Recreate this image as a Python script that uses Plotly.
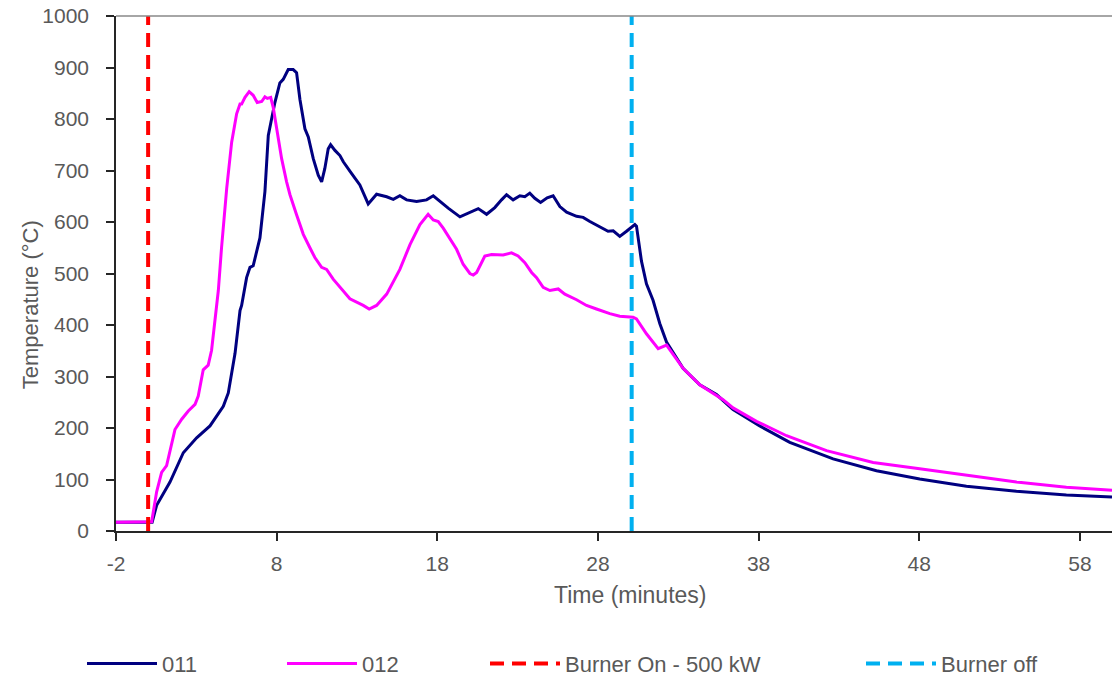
import plotly.graph_objects as go

# ---- data ----
t_011 = [-2, 0.25, 0.53, 1.36, 2.19, 3.02, 3.85, 4.68, 4.99, 5.41, 5.72, 5.82, 6.13, 6.34, 6.54, 6.96,
         7.27, 7.48, 7.89, 8.2, 8.41, 8.72, 9.03, 9.24, 9.45, 9.76, 9.97, 10.28, 10.59, 10.8, 11.0,
         11.21, 11.36, 11.63, 11.94, 12.15, 12.67, 13.18, 13.7, 14.22, 14.85, 15.26, 15.67, 16.09,
         16.71, 17.33, 17.75, 18.16, 18.68, 19.41, 20.03, 20.55, 21.07, 21.58, 22.0, 22.31, 22.72,
         23.14, 23.45, 23.76, 24.07, 24.43, 24.84, 25.21, 25.63, 26.05, 26.67, 27.08, 27.5, 28.12,
         28.63, 28.95, 29.36, 29.78, 30.3, 30.4, 30.71, 31.02, 31.43, 31.85, 32.27, 33.3, 34.34,
         35.38, 36.41, 38.07, 39.94, 42.64, 45.34, 48.03, 50.94, 54.05, 57.16, 60]
T_011 = [17, 17, 50, 95, 152, 181, 204, 242, 268, 345, 428, 438, 492, 512, 515, 569,
         659, 768, 832, 870, 877, 896, 896, 890, 838, 781, 765, 723, 691, 678, 704,
         742, 750, 739, 729, 717, 694, 672, 635, 654, 649, 644, 651, 643,
         640, 643, 651, 640, 627, 610, 618, 626, 615, 628, 643, 653, 643,
         651, 649, 656, 646, 638, 647, 651, 630, 619, 611, 609, 601, 590,
         582, 583, 572, 582, 595, 592, 524, 480, 448, 403, 367, 316, 284,
         265, 236, 204, 172, 140, 117, 101, 87, 77, 70, 66]

t_012 = [-2, 0.22, 0.53, 0.84, 1.15, 1.47, 1.67, 2.09, 2.5, 2.92, 3.12, 3.43, 3.74, 3.95, 4.16, 4.37,
         4.57, 4.89, 5.2, 5.51, 5.72, 5.82, 6.03, 6.29, 6.54, 6.79, 7.07, 7.27, 7.42, 7.63, 7.79,
         8.0, 8.31, 8.62, 8.83, 9.24, 9.66, 10.07, 10.38, 10.8, 11.11, 11.52, 11.94, 12.56, 13.39,
         13.76, 14.22, 14.85, 15.67, 16.3, 16.92, 17.43, 17.75, 18.06, 18.37, 18.78, 19.2, 19.61,
         20.03, 20.24, 20.45, 20.96, 21.38, 22.1, 22.62, 23.03, 23.45, 23.87, 24.18, 24.59, 25.01,
         25.53, 25.94, 26.67, 27.29, 27.91, 28.74, 29.36, 30.19, 30.4, 31.02, 31.75, 32.27, 33.3,
         34.34, 35.79, 36.41, 37.87, 39.74, 42.23, 45.13, 48.03, 50.94, 54.05, 57.16, 60]
T_012 = [17, 18, 76, 114, 127, 172, 197, 217, 233, 246, 262, 313, 322, 351, 409, 467,
         550, 665, 755, 810, 829, 829, 842, 853, 846, 832, 834, 843, 840, 842, 822,
         781, 723, 678, 653, 614, 576, 550, 531, 512, 508, 489, 473, 451, 438,
         431, 438, 460, 508, 556, 595, 615, 604, 601, 588, 569, 547, 518,
         500, 497, 502, 534, 537, 536, 540, 534, 521, 502, 492, 473, 467,
         470, 460, 449, 438, 431, 422, 417, 415, 412, 383, 354, 361, 316,
         284, 255, 239, 213, 185, 156, 133, 121, 108, 95, 85, 79]

burner_on_t = [0, 0]
burner_off_t = [30.1, 30.1]
marker_T = [0, 1000]

x_ticks = [-2, 8, 18, 28, 38, 48, 58]
y_ticks = [0, 100, 200, 300, 400, 500, 600, 700, 800, 900, 1000]

FONT = "Liberation Sans, Arial, sans-serif"
GRAY = "#595959"

fig = go.Figure()
fig.add_trace(go.Scatter(x=t_011, y=T_011, mode="lines", name="011",
                         line=dict(color="#000080", width=3), legend="legend"))
fig.add_trace(go.Scatter(x=t_012, y=T_012, mode="lines", name="012",
                         line=dict(color="#FF00FF", width=3), legend="legend2"))
fig.add_trace(go.Scatter(x=burner_on_t, y=marker_T, mode="lines", name="Burner On - 500 kW",
                         line=dict(color="#FF0000", width=4, dash="14px,8px"), legend="legend3"))
fig.add_trace(go.Scatter(x=burner_off_t, y=marker_T, mode="lines", name="Burner off",
                         line=dict(color="#00B0F0", width=4, dash="14px,8px"), legend="legend4"))

W, H = 1113, 686
L, R, T, B = 116, 1, 16, 150
pw = W - L - R
ph = H - T - B


def px_x(px):
    return (px - L) / pw


def px_y(py):
    return (H - B - py) / ph


legend_common = dict(orientation="h", yanchor="middle", xanchor="left", y=px_y(670),
                     font=dict(family=FONT, size=22, color=GRAY), itemwidth=70,
                     bgcolor="rgba(0,0,0,0)", borderwidth=0, tracegroupgap=0)

fig.update_layout(
    width=W, height=H,
    margin=dict(l=L, r=R, t=T, b=B, pad=0),
    plot_bgcolor="white", paper_bgcolor="white",
    font=dict(family=FONT, size=20, color=GRAY),
    showlegend=True,
    legend=dict(x=px_x(82), **legend_common),
    legend2=dict(x=px_x(282), **legend_common),
    legend3=dict(x=px_x(485), **legend_common),
    legend4=dict(x=px_x(861), **legend_common),
    xaxis=dict(range=[-2, 60], tickvals=x_ticks, ticktext=[str(v) for v in x_ticks],
               showgrid=False, zeroline=False, showline=True, linecolor="#262626", linewidth=1.5,
               ticks="outside", ticklen=8, tickcolor="#262626", tickwidth=1.5,
               tickfont=dict(family=FONT, size=21, color=GRAY), ticklabelstandoff=5),
    yaxis=dict(range=[0, 1000], tickvals=y_ticks, ticktext=[str(v) for v in y_ticks],
               showgrid=False, zeroline=False, showline=True, linecolor="#262626", linewidth=1.5,
               ticks="outside", ticklen=8, tickcolor="#262626", tickwidth=1.5,
               tickfont=dict(family=FONT, size=21, color=GRAY), ticklabelstandoff=13),
    shapes=[dict(type="line", xref="paper", yref="paper", x0=0, x1=1, y0=1, y1=1,
                 line=dict(color="#898989", width=1.5))],
    annotations=[
        dict(text="Time (minutes)", xref="paper", yref="paper", x=px_x(630), y=px_y(601),
             xanchor="center", yanchor="middle", showarrow=False,
             font=dict(family=FONT, size=23, color=GRAY)),
        dict(text="Temperature (°C)", xref="paper", yref="paper", x=px_x(30), y=px_y(308),
             xanchor="center", yanchor="middle", showarrow=False, textangle=-90,
             font=dict(family=FONT, size=22, color=GRAY)),
    ],
)

fig.write_html("out.html")
